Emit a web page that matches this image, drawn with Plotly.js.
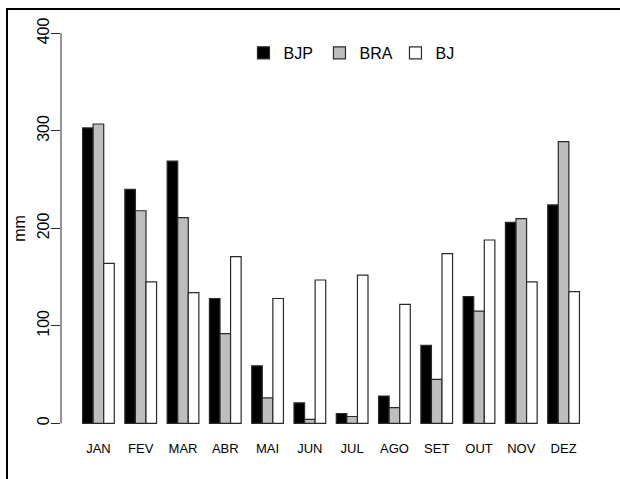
<!DOCTYPE html>
<html>
<head>
<meta charset="utf-8">
<script src="https://cdn.plot.ly/plotly-3.0.1.min.js"></script>
<style>
  html, body { margin: 0; padding: 0; background: #ffffff; }
  #chart { width: 620px; height: 479px; }
</style>
</head>
<body>
<div id="chart"></div>
<script>
// Monthly precipitation (mm)
const months = ["JAN", "FEV", "MAR", "ABR", "MAI", "JUN", "JUL", "AGO", "SET", "OUT", "NOV", "DEZ"];
const BJP = [303, 240, 269, 128, 59, 21, 10, 28, 80, 130, 206, 224];
const BRA = [307, 218, 211, 92, 26, 4, 7, 16, 45, 115, 210, 289];
const BJ  = [164, 145, 134, 171, 128, 147, 152, 122, 174, 188, 145, 135];
const yTicks = [0, 100, 200, 300, 400];

const lineCol = "#2a2a2a";
function series(name, y, fill) {
  return {
    type: "bar", name: name, x: months, y: y,
    marker: { color: fill, line: { color: lineCol, width: 1.2 } },
    hoverinfo: "x+y+name"
  };
}
const data = [
  series("BJP", BJP, "#000000"),
  series("BRA", BRA, "#bebebe"),
  series("BJ", BJ, "#ffffff")
];

const layout = {
  width: 620, height: 479,
  margin: { l: 61, r: 19, t: 18, b: 40, pad: 0 },
  paper_bgcolor: "#ffffff", plot_bgcolor: "#ffffff",
  font: { family: "Liberation Sans, Arial, sans-serif", size: 16, color: "#000000" },
  barmode: "group", bargap: 0.25, bargroupgap: 0,
  showlegend: true,
  legend: {
    orientation: "h", x: 0.549, xanchor: "center", y: 0.917, yanchor: "middle",
    font: { size: 16, color: "#000000" }, entrywidth: 31, bgcolor: "rgba(0,0,0,0)",
    traceorder: "normal"
  },
  xaxis: {
    type: "category", range: [-0.885, 11.885],
    showgrid: false, zeroline: false, showline: false, ticks: "",
    tickfont: { size: 13 }, ticklabelstandoff: 0, fixedrange: true
  },
  yaxis: {
    range: [-16.1, 415.7], tickvals: yTicks, ticktext: yTicks.map(String),
    showgrid: false, zeroline: false, showline: false,
    ticks: "outside", ticklen: 9, tickwidth: 1, tickcolor: lineCol,
    tickangle: -90, tickfont: { size: 16 }, ticklabelstandoff: -4,
    title: { text: "mm", font: { size: 16 }, standoff: 4 }, fixedrange: true
  },
  shapes: [
    { type: "line", xref: "paper", yref: "y", x0: 0, x1: 0, y0: 0, y1: 400,
      line: { color: lineCol, width: 1 } },
    { type: "rect", xref: "paper", yref: "paper", x0: -0.1, x1: 1.2, y0: -0.3, y1: 1.0214,
      line: { color: "#000000", width: 2 }, fillcolor: "rgba(0,0,0,0)", layer: "above" }
  ]
};

Plotly.newPlot("chart", data, layout, { displayModeBar: false, staticPlot: true });
</script>
</body>
</html>
